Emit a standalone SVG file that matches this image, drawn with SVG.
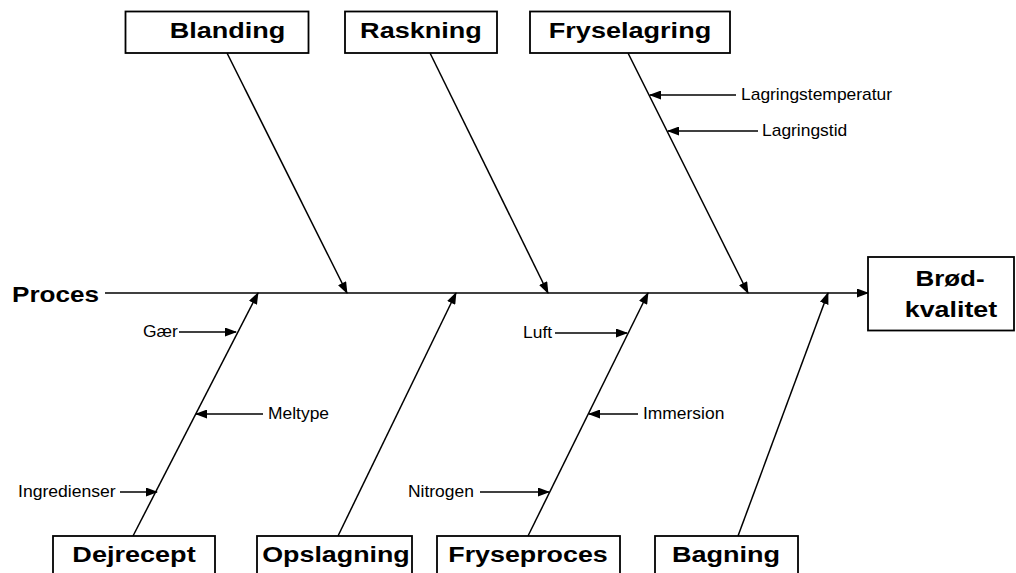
<svg xmlns="http://www.w3.org/2000/svg" width="1016" height="573" viewBox="0 0 1016 573">
<style>
.box{fill:#fff;stroke:#000;stroke-width:1.8}
.t{font-family:"Liberation Sans",Arial,sans-serif;font-weight:bold;font-size:22px;fill:#000;text-anchor:middle}
.s{font-family:"Liberation Sans",Arial,sans-serif;font-size:16px;fill:#000}
.ln{stroke:#000;stroke-width:1.5;fill:none;marker-end:url(#ah)}
</style>
<defs>
<marker id="ah" markerWidth="12" markerHeight="9" refX="11" refY="4.5" orient="auto" markerUnits="userSpaceOnUse">
<path d="M0,0 L12,4.5 L0,9 Z" fill="#000"/>
</marker>
</defs>
<rect width="1016" height="573" fill="#fff"/>
<g id="connectors">
<line class="ln" x1="105" y1="293" x2="868" y2="293"/>
<line class="ln" x1="227" y1="53" x2="347" y2="293"/>
<line class="ln" x1="430" y1="53" x2="548" y2="293"/>
<line class="ln" x1="628" y1="53" x2="748" y2="293"/>
<line class="ln" x1="133" y1="536" x2="258" y2="293"/>
<line class="ln" x1="338" y1="536" x2="456" y2="293"/>
<line class="ln" x1="528" y1="536" x2="648" y2="293"/>
<line class="ln" x1="738" y1="536" x2="828" y2="293"/>
<line class="ln" x1="736" y1="95" x2="650" y2="95"/>
<line class="ln" x1="758" y1="131" x2="668" y2="131"/>
<line class="ln" x1="179" y1="332" x2="236" y2="332"/>
<line class="ln" x1="263" y1="414" x2="196" y2="414"/>
<line class="ln" x1="120" y1="492" x2="157" y2="492"/>
<line class="ln" x1="555" y1="333" x2="627" y2="333"/>
<line class="ln" x1="638" y1="414" x2="589" y2="414"/>
<line class="ln" x1="480" y1="492" x2="549" y2="492"/>
</g>
<g id="proces"><text class="t" transform="translate(12,301.5) scale(1.16,1)" style="text-anchor:start;font-size:22.5px">Proces</text></g>
<g id="blanding"><rect class="box" x="125.5" y="11.5" width="183" height="41.5"/><text class="t" transform="translate(227.5,37.5) scale(1.23,1)">Blanding</text></g>
<g id="raskning"><rect class="box" x="345" y="11.5" width="152" height="41.5"/><text class="t" transform="translate(421,37.5) scale(1.23,1)">Raskning</text></g>
<g id="fryselagring"><rect class="box" x="530" y="11.5" width="200" height="41.5"/><text class="t" transform="translate(630,37.5) scale(1.23,1)">Fryselagring</text></g>
<g id="brodkvalitet"><rect class="box" x="868" y="257" width="146" height="73.5"/><text class="t" transform="translate(950,286) scale(1.18,1)">Brød-</text><text class="t" transform="translate(951,317) scale(1.22,1)">kvalitet</text></g>
<g id="dejrecept"><rect class="box" x="53" y="536" width="162" height="45"/><text class="t" transform="translate(134,562) scale(1.23,1)">Dejrecept</text></g>
<g id="opslagning"><rect class="box" x="257" y="536" width="155" height="45"/><text class="t" transform="translate(336,562) scale(1.22,1)">Opslagning</text></g>
<g id="fryseproces"><rect class="box" x="437" y="536" width="183" height="45"/><text class="t" transform="translate(528,562) scale(1.22,1)">Fryseproces</text></g>
<g id="bagning"><rect class="box" x="655" y="536" width="143" height="45"/><text class="t" transform="translate(726,562) scale(1.23,1)">Bagning</text></g>
<g id="labels">
<text class="s" transform="translate(741,100) scale(1.09,1)">Lagringstemperatur</text>
<text class="s" transform="translate(762,136) scale(1.09,1)">Lagringstid</text>
<text class="s" transform="translate(143,337) scale(1.09,1)">Gær</text>
<text class="s" transform="translate(268,419) scale(1.09,1)">Meltype</text>
<text class="s" transform="translate(18,497) scale(1.1,1)">Ingredienser</text>
<text class="s" transform="translate(523,338) scale(1.09,1)">Luft</text>
<text class="s" transform="translate(643,419) scale(1.09,1)">Immersion</text>
<text class="s" transform="translate(408,497) scale(1.09,1)">Nitrogen</text>
</g>
</svg>
